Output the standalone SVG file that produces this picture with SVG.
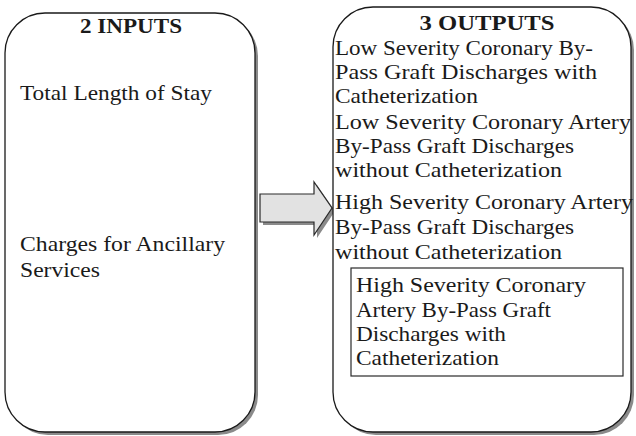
<svg xmlns="http://www.w3.org/2000/svg" width="636" height="436" viewBox="0 0 636 436">
<style>
.box{fill:#fff;stroke:#1a1a1a;stroke-width:1.3}
.shadow{fill:#8a8a8a;stroke:none}
.t{font-family:"Liberation Serif","Times New Roman",Tinos,"Noto Serif","DejaVu Serif",serif;font-size:22px;font-weight:normal;fill:#1a1a1a}
.h{font-family:"Liberation Serif","Times New Roman",Tinos,"Noto Serif","DejaVu Serif",serif;font-size:20px;font-weight:bold;fill:#1a1a1a;text-anchor:middle}
.arrow{fill:#e2e2e2;stroke:#2a2a2a;stroke-width:1.2}
.inner{fill:none;stroke:#2a2a2a;stroke-width:1.2}
</style>
<rect width="636" height="436" fill="#fff"/>
<g id="inputs">
<rect class="shadow" x="8" y="16" width="250" height="419" rx="40" ry="40"/>
<rect class="box" x="5" y="13" width="250" height="419" rx="40" ry="40"/>
<text class="h" x="131" y="33" textLength="102" lengthAdjust="spacingAndGlyphs">2 INPUTS</text>
<text class="t" x="20" y="100" textLength="192" lengthAdjust="spacingAndGlyphs">Total Length of Stay</text>
<text class="t" x="20" y="251" textLength="205" lengthAdjust="spacingAndGlyphs">Charges for Ancillary</text>
<text class="t" x="20" y="277" textLength="80" lengthAdjust="spacingAndGlyphs">Services</text>
</g>
<g id="connectors">
<polygon class="shadow" points="263,197 317,197 317,185 335,211 317,238 317,225 263,225"/>
<polygon class="arrow" points="260,194 314,194 314,182 332,208 314,235 314,222 260,222"/>
</g>
<g id="outputs">
<rect class="shadow" x="336" y="10" width="298" height="425" rx="40" ry="40"/>
<rect class="box" x="333" y="7" width="298" height="425" rx="40" ry="40"/>
<text class="h" x="487" y="30" textLength="135" lengthAdjust="spacingAndGlyphs">3 OUTPUTS</text>
<text class="t" x="335" y="55" textLength="258" lengthAdjust="spacingAndGlyphs">Low Severity Coronary By-</text>
<text class="t" x="335" y="79" textLength="262" lengthAdjust="spacingAndGlyphs">Pass Graft Discharges with</text>
<text class="t" x="335" y="103" textLength="143" lengthAdjust="spacingAndGlyphs">Catheterization</text>
<text class="t" x="335" y="129" textLength="296" lengthAdjust="spacingAndGlyphs">Low Severity Coronary Artery</text>
<text class="t" x="335" y="153" textLength="239" lengthAdjust="spacingAndGlyphs">By-Pass Graft Discharges</text>
<text class="t" x="335" y="177" textLength="227" lengthAdjust="spacingAndGlyphs">without Catheterization</text>
<text class="t" x="335" y="209" textLength="298" lengthAdjust="spacingAndGlyphs">High Severity Coronary Artery</text>
<text class="t" x="335" y="234" textLength="239" lengthAdjust="spacingAndGlyphs">By-Pass Graft Discharges</text>
<text class="t" x="335" y="259" textLength="227" lengthAdjust="spacingAndGlyphs">without Catheterization</text>
<g id="output4">
<rect class="inner" x="351" y="268" width="272" height="108"/>
<text class="t" x="356" y="292" textLength="230" lengthAdjust="spacingAndGlyphs">High Severity Coronary</text>
<text class="t" x="356" y="317" textLength="195" lengthAdjust="spacingAndGlyphs">Artery By-Pass Graft</text>
<text class="t" x="356" y="341" textLength="150" lengthAdjust="spacingAndGlyphs">Discharges with</text>
<text class="t" x="356" y="365" textLength="143" lengthAdjust="spacingAndGlyphs">Catheterization</text>
</g>
</g>
</svg>
